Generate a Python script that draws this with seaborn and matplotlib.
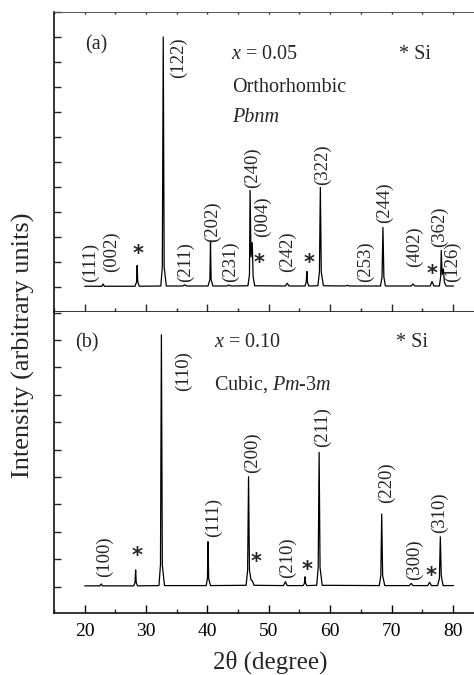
import matplotlib
matplotlib.use("Agg")
import matplotlib.pyplot as plt
from matplotlib.ticker import MultipleLocator, NullFormatter
import seaborn as sns

# ---------------- data ----------------
# panel (a): x = 0.05, orthorhombic Pbnm  -- trace vertices (2theta, intensity)
a_tt = [20.0, 22.8, 23.0, 23.2, 28.2, 28.45, 28.55, 28.65, 28.9,
        32.4, 32.65, 32.8, 32.95, 33.3, 36.0, 36.3, 36.6,
        40.1, 40.4, 40.5, 40.6, 40.9, 43.2, 43.5, 43.8,
        46.6, 46.85, 46.95, 47.1, 47.3, 47.45, 47.7,
        52.7, 53.0, 53.3, 55.9, 56.1, 56.2, 56.3, 56.5,
        58.0, 58.25, 58.4, 58.55, 58.9, 62.5, 62.8, 63.1,
        68.2, 68.45, 68.6, 68.75, 69.0, 73.2, 73.5, 73.8,
        76.3, 76.6, 76.9, 77.8, 78.0, 78.1, 78.25, 78.45, 78.6, 78.9, 80.1]
a_int = [0.3, 0.3, 1.2, 0.3, 0.3, 2.0, 8.6, 2.0, 0.3,
         0.4, 8.0, 100.0, 8.0, 0.4, 0.4, 0.9, 0.4,
         0.4, 3.0, 18.3, 3.0, 0.4, 0.4, 0.8, 0.4,
         0.5, 5.0, 38.6, 12.0, 17.8, 4.0, 0.5,
         0.4, 1.5, 0.4, 0.4, 2.0, 6.2, 2.0, 0.4,
         0.5, 6.0, 39.8, 6.0, 0.5, 0.4, 0.7, 0.4,
         0.4, 4.0, 23.8, 4.0, 0.4, 0.4, 1.2, 0.4,
         0.4, 2.2, 0.4, 0.4, 4.0, 14.6, 5.0, 7.2, 2.0, 0.4, 0.4]

# panel (b): x = 0.10, cubic Pm-3m
b_tt = [20.0, 22.5, 22.7, 22.9, 28.0, 28.2, 28.3, 28.4, 28.6,
        32.1, 32.35, 32.5, 32.65, 33.0, 39.8, 40.0, 40.1, 40.2, 40.5,
        46.3, 46.55, 46.7, 46.85, 47.1, 47.3, 47.6,
        52.4, 52.7, 53.0, 55.6, 55.8, 55.9, 56.0, 56.2,
        57.8, 58.05, 58.2, 58.35, 58.7, 68.0, 68.25, 68.4, 68.55, 68.9,
        72.9, 73.2, 73.5, 75.9, 76.2, 76.5, 77.5, 77.8, 77.95, 78.1, 78.4, 80.1]
b_int = [0.3, 0.3, 1.0, 0.3, 0.3, 1.5, 6.1, 1.5, 0.3,
         0.4, 8.0, 91.9, 8.0, 0.4, 0.4, 3.0, 16.4, 3.0, 0.4,
         0.5, 6.0, 40.1, 6.0, 2.5, 2.2, 0.5,
         0.4, 1.8, 0.4, 0.4, 1.2, 3.6, 1.2, 0.4,
         0.5, 7.0, 49.0, 7.0, 0.5, 0.4, 4.0, 26.5, 4.0, 0.4,
         0.4, 1.2, 0.4, 0.4, 1.6, 0.4, 0.4, 3.0, 18.2, 4.0, 0.4, 0.4]

# hkl labels: text, 2theta position, bottom of label (intensity units)
a_hkl = ["(111)", "(002)", "(122)", "(211)", "(202)", "(231)", "(240)",
         "(004)", "(242)", "(322)", "(253)", "(244)", "(402)", "(362)", "(126)"]
a_hkl_x = [21.0, 24.4, 35.3, 36.4, 40.8, 43.8, 47.3, 48.9, 53.0, 58.7,
           65.8, 68.8, 73.7, 77.8, 80.0]
a_hkl_y = [2.1, 6.1, 83.7, 2.1, 18.1, 2.1, 39.7, 20.1, 6.1, 40.9,
           2.1, 25.7, 8.1, 16.1, 2.1]
a_si_x = [28.7, 48.4, 56.6, 76.6]
a_si_y = [13.3, 9.7, 9.7, 5.3]

b_hkl = ["(100)", "(110)", "(111)", "(200)", "(210)", "(211)", "(220)",
         "(300)", "(310)"]
b_hkl_x = [23.3, 36.1, 41.0, 47.3, 53.1, 58.7, 69.1, 73.7, 77.8]
b_hkl_y = [3.6, 71.2, 18.2, 41.4, 3.1, 51.1, 30.4, 2.4, 19.5]
b_si_x = [28.6, 48.0, 56.2, 76.4]
b_si_y = [11.2, 9.1, 6.1, 3.9]

x_ticks = [20, 30, 40, 50, 60, 70, 80]

# ---------------- style ----------------
sns.set_theme(style="ticks")
plt.rcParams["font.family"] = ["Liberation Serif", "DejaVu Serif"]
plt.rcParams["mathtext.fontset"] = "custom"
plt.rcParams["mathtext.rm"] = "Liberation Serif"
plt.rcParams["mathtext.it"] = "Liberation Serif:italic"

fig = plt.figure(figsize=(4.74, 6.75), dpi=100)
W, H = 474.0, 675.0
left = 54 / W
width = (483.6 - 54) / W
ax_a = fig.add_axes([left, 1 - 312 / H, width, 300 / H])
ax_b = fig.add_axes([left, 1 - 613 / H, width, 301 / H])

for ax, tt, inten in ((ax_a, a_tt, a_int), (ax_b, b_tt, b_int)):
    sns.lineplot(x=tt, y=inten, ax=ax, color="black", lw=0.9,
                 estimator=None, sort=False)
    ax.set_xlim(15, 85)
    ax.xaxis.set_major_locator(MultipleLocator(10))
    ax.xaxis.set_minor_locator(MultipleLocator(5))
    ax.yaxis.set_major_locator(MultipleLocator(10))
    ax.yaxis.set_major_formatter(NullFormatter())
    ax.tick_params(axis="y", which="major", direction="in", length=5,
                   width=1.0, left=True, right=False, labelleft=False)
    ax.tick_params(axis="x", which="major", direction="in", length=6, width=1.0)
    ax.tick_params(axis="x", which="minor", direction="in", length=3, width=1.0)
    for s in ("left", "bottom"):
        ax.spines[s].set_linewidth(1.1)
        ax.spines[s].set_color("black")
    ax.spines["right"].set_visible(False)
    ax.set_xlabel("")
    ax.set_ylabel("")

ax_a.set_ylim(-10, 110)
ax_b.set_ylim(-9.6, 100.2)

# top panel: tiny ticks on a thin top spine, no x labels
ax_a.spines["top"].set_visible(True)
ax_a.spines["top"].set_linewidth(0.7)
ax_a.spines["top"].set_color("#555555")
ax_a.tick_params(axis="x", which="both", top=True, labelbottom=False)
ax_b.spines["top"].set_visible(False)
ax_b.set_xticks(x_ticks)
ax_b.tick_params(axis="x", which="major", labelsize=14, pad=7, colors="black")
ax_b.tick_params(axis="x", which="both", top=False)

for t in ax_a.xaxis.get_major_ticks() + ax_a.xaxis.get_minor_ticks():
    t.tick2line.set_markersize(1.5)
    t.tick2line.set_color("#555555")

fs = 14.5
hk = 13.5
# ---- panel (a) texts
ax_a.text(20.1, 97, "(a)", fontsize=fs, va="center", ha="left")
ax_a.text(43.8, 93, r"$x$ = 0.05", fontsize=fs, va="center", ha="left")
ax_a.text(71.2, 93, "* Si", fontsize=fs, va="center", ha="left")
ax_a.text(44.1, 80, "Orthorhombic", fontsize=fs, va="center", ha="left")
ax_a.text(44.1, 67.7, "Pbnm", fontsize=fs, va="center", ha="left",
          fontstyle="italic")
for lab, x, y in zip(a_hkl, a_hkl_x, a_hkl_y):
    ax_a.text(x, y, lab, rotation=90, fontsize=hk, ha="center", va="bottom")
for x, y in zip(a_si_x, a_si_y):
    ax_a.text(x, y, "*", fontsize=15, ha="center", va="center",
              family="DejaVu Sans", fontweight="bold")

# ---- panel (b) texts
ax_b.text(18.4, 88.8, "(b)", fontsize=fs, va="center", ha="left")
ax_b.text(41.0, 89, r"$x$ = 0.10", fontsize=fs, va="center", ha="left")
ax_b.text(70.7, 89, "* Si", fontsize=fs, va="center", ha="left")
ax_b.text(41.0, 73.6, r"Cubic, $\mathit{Pm}$-$\mathit{3m}$", fontsize=fs,
          va="center", ha="left")
for lab, x, y in zip(b_hkl, b_hkl_x, b_hkl_y):
    ax_b.text(x, y, lab, rotation=90, fontsize=hk, ha="center", va="bottom")
for x, y in zip(b_si_x, b_si_y):
    ax_b.text(x, y, "*", fontsize=15, ha="center", va="center",
              family="DejaVu Sans", fontweight="bold")

fig.text(270 / W, 1 - 662 / H, "2θ (degree)", fontsize=18, ha="center",
         va="center")
fig.text(23 / W, 1 - 345 / H, "Intensity (arbitrary units)", fontsize=19,
         rotation=90, ha="center", va="center")

fig.savefig("out.png", dpi=100)
